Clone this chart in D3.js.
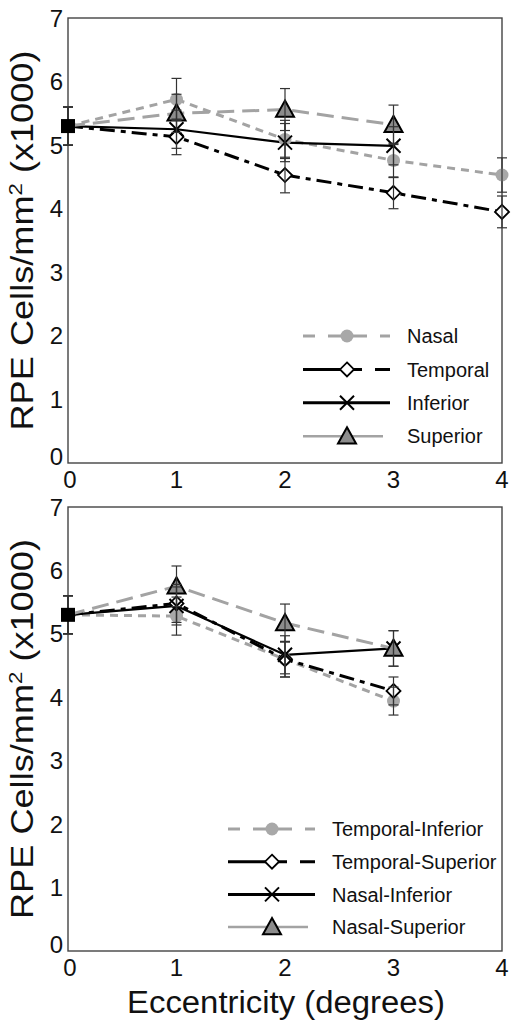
<!DOCTYPE html>
<html>
<head>
<meta charset="utf-8">
<script src="https://cdn.jsdelivr.net/npm/d3@7"></script>
<style>
  html, body { margin: 0; padding: 0; background: #fff; }
  svg { display: block; font-family: "Liberation Sans", Arial, sans-serif; }
</style>
</head>
<body>
<svg id="chart" width="518" height="1026"></svg>
<script>
// ---------------- DATA ----------------
const eccentricity = [0, 1, 2, 3, 4];
const xTicks = [0, 1, 2, 3, 4];
const yTicks = [0, 1, 2, 3, 4, 5, 6, 7];

// Top panel
const topNames = ["Nasal", "Temporal", "Inferior", "Superior"];
const nasalVals      = [5.3, 5.72, 5.09, 4.76, 4.53];
const nasalErr       = [0.3, 0.33, 0.30, 0.27, 0.27];
const temporalVals   = [5.3, 5.13, 4.53, 4.25, 3.95];
const temporalErr    = [0.3, 0.28, 0.28, 0.25, 0.25];
const inferiorVals   = [5.3, 5.25, 5.04, 4.99];
const inferiorErr    = [0.3, 0.30, 0.30, 0.30];
const superiorVals   = [5.3, 5.50, 5.56, 5.32];
const superiorErr    = [0.3, 0.30, 0.33, 0.31];

// Bottom panel
const bottomNames = ["Temporal-Inferior", "Temporal-Superior", "Nasal-Inferior", "Nasal-Superior"];
const tempInfVals  = [5.3, 5.28, 4.60, 3.94];
const tempInfErr   = [0.3, 0.30, 0.28, 0.22];
const tempSupVals  = [5.3, 5.48, 4.60, 4.10];
const tempSupErr   = [0.3, 0.30, 0.28, 0.22];
const nasInfVals   = [5.3, 5.44, 4.67, 4.77];
const nasInfErr    = [0.3, 0.30, 0.30, 0.28];
const nasSupVals   = [5.3, 5.75, 5.17, 4.77];
const nasSupErr    = [0.3, 0.32, 0.30, 0.28];

// ---------------- STYLES ----------------
const GRAY = "#a3a3a3";
const styles = {
  circle:   { stroke: GRAY,   width: 3,   dash: "8,6",        marker: "circle"   },
  diamond:  { stroke: "#000", width: 3,   dash: "15,6,5,6",   marker: "diamond"  },
  cross:    { stroke: "#000", width: 2.2, dash: null,         marker: "cross"    },
  triangle: { stroke: GRAY,   width: 3,   dash: "17,8",       marker: "triangle" }
};
const legendDash = {
  circle: "12,13,39,13,10",
  diamond: "59,13,15",
  cross: null,
  triangle: null
};

const svg = d3.select("#chart");
const X0 = 68, X1 = 502;

function drawMarker(g, type, cx, cy) {
  if (type === "circle") {
    g.append("circle").attr("cx", cx).attr("cy", cy).attr("r", 6.5)
      .attr("fill", "#a8a8a8");
  } else if (type === "diamond") {
    const s = 7;
    g.append("path")
      .attr("d", `M${cx},${cy - s}L${cx + s},${cy}L${cx},${cy + s}L${cx - s},${cy}Z`)
      .attr("fill", "#fff").attr("stroke", "#000").attr("stroke-width", 1.8);
  } else if (type === "cross") {
    const s = 7;
    g.append("path")
      .attr("d", `M${cx - s},${cy - s}L${cx + s},${cy + s}M${cx - s},${cy + s}L${cx + s},${cy - s}`)
      .attr("stroke", "#000").attr("stroke-width", 2).attr("fill", "none");
  } else if (type === "triangle") {
    const s = 9;
    g.append("path")
      .attr("d", `M${cx},${cy - s}L${cx + s},${cy + s * 0.8}L${cx - s},${cy + s * 0.8}Z`)
      .attr("fill", "#8c8c8c").attr("stroke", "#000").attr("stroke-width", 2)
      .attr("stroke-linejoin", "miter");
  }
}

function drawPanel(cfg) {
  const x = d3.scaleLinear().domain([0, 4]).range([X0, X1]);
  const y = d3.scaleLinear().domain([0, 7]).range([cfg.bottom, cfg.top]);
  const g = svg.append("g");

  // frame
  g.append("rect").attr("x", X0).attr("y", cfg.top)
    .attr("width", X1 - X0).attr("height", cfg.bottom - cfg.top)
    .attr("fill", "none").attr("stroke", "#444").attr("stroke-width", 1.4);

  // y tick labels
  g.selectAll(".yl").data(yTicks).enter().append("text")
    .attr("x", X0 - 5).attr("y", d => y(d))
    .attr("dy", d => d === 0 ? "0.1em" : "0.36em")
    .attr("text-anchor", "end").attr("font-size", 24).attr("fill", "#111")
    .text(d => d);

  // x tick labels
  g.selectAll(".xl").data(xTicks).enter().append("text")
    .attr("x", d => x(d) + (d === 0 ? 2 : 0)).attr("y", cfg.bottom + 25)
    .attr("text-anchor", "middle").attr("font-size", 24).attr("fill", "#111")
    .text(d => d);

  // y title
  const ty = (cfg.top + cfg.bottom) / 2;
  const t = g.append("text")
    .attr("transform", `translate(33,${ty}) rotate(-90)`)
    .attr("text-anchor", "middle").attr("font-size", 31).attr("fill", "#111")
    .attr("textLength", 380).attr("lengthAdjust", "spacingAndGlyphs");
  t.append("tspan").text("RPE Cells/mm");
  t.append("tspan").attr("font-size", 19).attr("dy", -11).text("2");
  t.append("tspan").attr("dy", 11).text(" (x1000)");

  const line = d3.line().x((d, i) => x(eccentricity[i])).y(d => y(d));

  // lines
  cfg.series.forEach(s => {
    const st = styles[s.type];
    g.append("path").datum(s.vals).attr("d", line)
      .attr("fill", "none").attr("stroke", st.stroke).attr("stroke-width", st.width)
      .attr("stroke-dasharray", st.dash).attr("stroke-linejoin", "round");
  });

  // markers (skip shared origin point)
  cfg.series.forEach(s => {
    s.vals.forEach((v, i) => {
      if (i === 0) return;
      drawMarker(g, styles[s.type].marker, x(eccentricity[i]), y(v));
    });
  });

  // error bars
  cfg.series.forEach(s => {
    s.vals.forEach((v, i) => {
      const cx = x(eccentricity[i]);
      const e = s.err[i];
      const eg = g.append("g").attr("stroke", "#333").attr("stroke-width", 1.2);
      eg.append("line").attr("x1", cx).attr("x2", cx).attr("y1", y(v + e)).attr("y2", y(v - e));
      eg.append("line").attr("x1", cx - 5).attr("x2", cx + 5).attr("y1", y(v + e)).attr("y2", y(v + e));
      eg.append("line").attr("x1", cx - 5).attr("x2", cx + 5).attr("y1", y(v - e)).attr("y2", y(v - e));
    });
  });

  // origin square
  const v0 = cfg.series[0].vals[0];
  g.append("rect").attr("x", x(0) - 7).attr("y", y(v0) - 7)
    .attr("width", 14).attr("height", 14).attr("fill", "#000");

  // legend
  cfg.series.forEach((s, i) => {
    const ly = cfg.legendY + i * cfg.legendStep;
    const st = styles[s.type];
    const lx0 = cfg.legendX, lx1 = cfg.legendX + (s.type === "triangle" ? 80 : 87);
    g.append("line").attr("x1", lx0).attr("x2", lx1).attr("y1", ly).attr("y2", ly)
      .attr("stroke", st.stroke).attr("stroke-width", s.type === "triangle" ? 2.5 : 3)
      .attr("stroke-dasharray", legendDash[s.type]);
    drawMarker(g, st.marker, cfg.legendX + 44, ly);
    g.append("text").attr("x", cfg.legendX + 104).attr("y", ly).attr("dy", "0.36em")
      .attr("font-size", 20).attr("fill", "#111").text(s.name);
  });
}

drawPanel({
  top: 18, bottom: 463,
  legendX: 303, legendY: 336, legendStep: 33.4,
  series: [
    { name: topNames[0], vals: nasalVals,    err: nasalErr,    type: "circle" },
    { name: topNames[1], vals: temporalVals, err: temporalErr, type: "diamond" },
    { name: topNames[2], vals: inferiorVals, err: inferiorErr, type: "cross" },
    { name: topNames[3], vals: superiorVals, err: superiorErr, type: "triangle" }
  ]
});

drawPanel({
  top: 507, bottom: 951,
  legendX: 228, legendY: 829, legendStep: 32.7,
  series: [
    { name: bottomNames[0], vals: tempInfVals, err: tempInfErr, type: "circle" },
    { name: bottomNames[1], vals: tempSupVals, err: tempSupErr, type: "diamond" },
    { name: bottomNames[2], vals: nasInfVals,  err: nasInfErr,  type: "cross" },
    { name: bottomNames[3], vals: nasSupVals,  err: nasSupErr,  type: "triangle" }
  ]
});

// x axis title
svg.append("text").attr("x", 286).attr("y", 1013)
  .attr("text-anchor", "middle").attr("font-size", 31).attr("fill", "#111")
  .attr("textLength", 318).attr("lengthAdjust", "spacingAndGlyphs")
  .text("Eccentricity (degrees)");
</script>
</body>
</html>
